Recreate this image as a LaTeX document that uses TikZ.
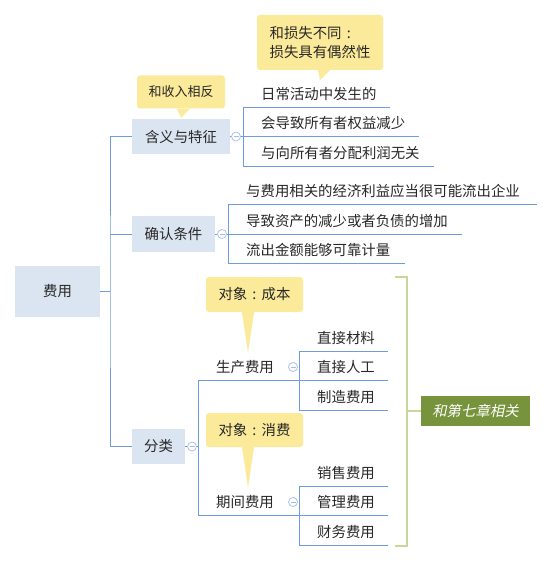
\documentclass[tikz,border=0pt]{standalone}
\usepackage{fontspec}
\setmainfont{Noto Sans CJK SC}
\newfontfamily\cjkit[FakeSlant=0.2]{Noto Sans CJK SC}
\newcommand{\cjkcolon}{\makebox[1em][c]{:}}
\definecolor{txt}{RGB}{40,40,40}
\definecolor{boxfill}{RGB}{219,228,241}
\definecolor{lineblue}{RGB}{111,155,224}
\definecolor{circ}{RGB}{165,187,232}
\definecolor{callfill}{RGB}{251,234,153}
\definecolor{brgreen}{RGB}{197,216,154}
\definecolor{olive}{RGB}{119,147,60}
\begin{document}
\begin{tikzpicture}[x=1pt,y=-1pt,
  every node/.style={font=\fontsize{14.4}{19}\selectfont, text=txt},
  topicbox/.style={fill=boxfill, inner sep=0pt},
  collapse/.style={circle, draw=circ, fill=white, minimum size=9pt, inner sep=0pt, line width=0.7pt,
    path picture={\draw[circ, line width=0.7pt] ([xshift=2pt]path picture bounding box.west) -- ([xshift=-2pt]path picture bounding box.east);}},
  leafnode/.style={anchor=south west, inner xsep=0pt, inner ysep=7.5pt, text depth=0pt, text height=11pt,
    text width=#1, align=left, execute at begin node={\hspace*{18pt}}},
  conn/.style={draw=lineblue, line width=0.8pt},
  calloutbox/.style={fill=callfill, rounded corners=3pt, inner sep=0pt},
  greenbr/.style={draw=brgreen, line width=2.6pt}]
\useasboundingbox (0,0) rectangle (554,564);
\fill[white] (0,0) rectangle (554,564);

% root
\node[topicbox, minimum width=85pt, minimum height=51pt] (root) at (57.5,291.5) {费用};
\node[topicbox, minimum width=98pt, minimum height=35pt] (b1) at (181,136.5) {含义与特征};
\node[topicbox, minimum width=83pt, minimum height=36pt] (b2) at (173.5,234) {确认条件};
\node[topicbox, minimum width=53pt, minimum height=35pt] (b3) at (158.5,446.5) {分类};
\coordinate (trunk) at (110,291.5);
\draw[conn] (root.east) -- (trunk);
\draw[conn] (b1.west) -| (trunk) |- (b3.west);
\draw[conn] (b2.west) -- (b2.west -| trunk);

% group 1
\node[collapse] (c1) at (236,136.5) {};
\node[leafnode=147pt] (l11) at (243,107) {日常活动中发生的};
\node[leafnode=176pt] (l12) at (243,136.5) {会导致所有者权益减少};
\node[leafnode=191pt] (l13) at (243,166) {与向所有者分配利润无关};
\draw[conn] (b1.east) -- (c1.west);
\draw[conn] (c1.east) -- (l12.south west);
\draw[conn] (l11.south west) -- (l11.south east);
\draw[conn] (l12.south west) -- (l12.south east);
\draw[conn] (l13.south west) -- (l13.south east);
\draw[conn] (l11.south west) -- (l13.south west);

% group 2
\node[collapse] (c2) at (222,234) {};
\node[leafnode=309pt] (l21) at (228,204) {与费用相关的经济利益应当很可能流出企业};
\node[leafnode=234pt] (l22) at (228,234) {导致资产的减少或者负债的增加};
\node[leafnode=177pt] (l23) at (228,263) {流出金额能够可靠计量};
\draw[conn] (b2.east) -- (c2.west);
\draw[conn] (c2.east) -- (l22.south west);
\draw[conn] (l21.south west) -- (l21.south east);
\draw[conn] (l22.south west) -- (l22.south east);
\draw[conn] (l23.south west) -- (l23.south east);
\draw[conn] (l21.south west) -- (l23.south west);

% group 3
\node[collapse] (c3) at (192,446.5) {};
\node[leafnode=101pt] (l31) at (198,380) {生产费用};
\node[leafnode=101pt] (l32) at (198,515) {期间费用};
\draw[conn] (b3.east) -- (c3.west);
\draw[conn] (c3.east) -- (c3.east -| l31.south west);
\draw[conn] (l31.south west) -- (l31.south east);
\draw[conn] (l32.south west) -- (l32.south east);
\draw[conn] (l31.south west) -- (l32.south west);
\node[collapse] (c31) at (293,367) {};
\node[collapse] (c32) at (293,502) {};

\node[leafnode=89pt] (g1) at (299,351) {直接材料};
\node[leafnode=89pt] (g2) at (299,380) {直接人工};
\node[leafnode=89pt] (g3) at (299,410) {制造费用};
\node[leafnode=89pt] (g4) at (299,486) {销售费用};
\node[leafnode=89pt] (g5) at (299,515) {管理费用};
\node[leafnode=89pt] (g6) at (299,545) {财务费用};
\foreach \n in {g1,g2,g3,g4,g5,g6} {\draw[conn] (\n.south west) -- (\n.south east);}
\draw[conn] (g1.south west) -- (g3.south west);
\draw[conn] (g4.south west) -- (g6.south west);

% callouts
\node[calloutbox, minimum width=88pt, minimum height=33pt, font=\fontsize{13}{16}\selectfont] (k1) at (181,92) {和收入相反};
\fill[callfill] ([xshift=-4pt]k1.south) -- ([yshift=1pt]b1.north) -- ([xshift=9pt]k1.south) -- cycle;

\node[calloutbox, minimum width=126pt, minimum height=55pt, align=left] (k2) at (320,42.5) {和损失不同\cjkcolon\\损失具有偶然性};
\coordinate (k2tip) at (320,80);
\fill[callfill] ([xshift=-2pt]k2.south) -- (k2tip) -- ([xshift=10pt]k2.south) -- cycle;

\node[calloutbox, minimum width=97pt, minimum height=35pt] (k3) at (254.5,294.5) {对象\cjkcolon 成本};
\coordinate (k3tip) at (248,353);
\fill[callfill] ([xshift=-12.5pt]k3.south) -- (k3tip) -- ([xshift=-0.5pt]k3.south) -- cycle;

\node[calloutbox, minimum width=97pt, minimum height=34pt] (k4) at (254.5,430) {对象\cjkcolon 消费};
\coordinate (k4tip) at (248,488);
\fill[callfill] ([xshift=-12.5pt]k4.south) -- (k4tip) -- ([xshift=-0.5pt]k4.south) -- cycle;

% summary bracket
\node[fill=olive, text=white, minimum width=109pt, minimum height=30pt, inner sep=0pt, font=\fontsize{14.4}{17}\cjkit] (g) at (475.5,411) {和第七章相关};
\coordinate (gtop) at (395,277);
\coordinate (gbot) at (395,546);
\draw[greenbr] (gtop) -- ++(12,0) |- (gbot);
\draw[greenbr] (g.west) -- (g.west -| 407,0);
\end{tikzpicture}
\end{document}
